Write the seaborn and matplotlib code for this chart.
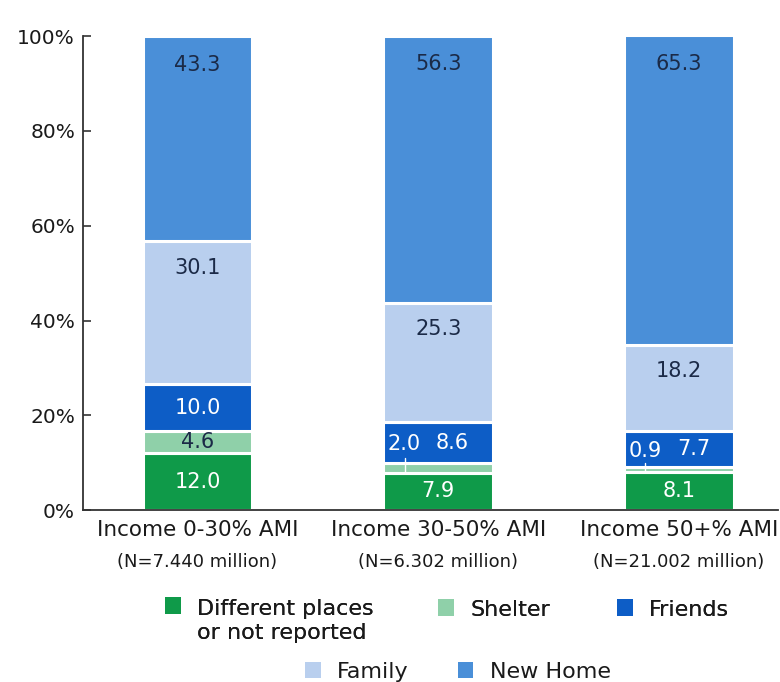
import matplotlib
matplotlib.use("Agg")
import matplotlib.pyplot as plt
import seaborn as sns
import numpy as np
from matplotlib.patches import Patch, Rectangle
from matplotlib.legend_handler import HandlerPatch

# ---- data ----
groups = ["Income 0-30% AMI", "Income 30-50% AMI", "Income 50+% AMI"]
group_n = ["(N=7.440 million)", "(N=6.302 million)", "(N=21.002 million)"]
series = ["Different places\nor not reported", "Shelter", "Friends", "Family", "New Home"]
different = [12.0, 7.9, 8.1]
shelter = [4.6, 2.0, 0.9]
friends = [10.0, 8.6, 7.7]
family = [30.1, 25.3, 18.2]
new_home = [43.3, 56.3, 65.3]
yticks = [0, 20, 40, 60, 80, 100]

colors = ["#0f9a49", "#8fd0a9", "#0d5dc6", "#b9cfee", "#4a8fd8"]
dark_txt = "#1b2a47"
txt_colors = ["white", dark_txt, "white", dark_txt, dark_txt]
axis_txt = "#1a1a1a"

sns.set_theme(style="white")
plt.rcParams["font.family"] = ["DejaVu Sans"]

fig = plt.figure(figsize=(7.8, 6.82), dpi=100)
ax = fig.add_axes([0.106, 0.252, 0.891, 0.695])

values = [different, shelter, friends, family, new_home]
bottoms = np.zeros(len(groups))
bar_w = 0.455
seg_bottoms = []
for vals, col, name in zip(values, colors, series):
    sns.barplot(x=groups, y=vals, color=col, bottom=bottoms.copy(), width=bar_w,
                edgecolor="white", linewidth=2.2, ax=ax, saturation=1)
    seg_bottoms.append(bottoms.copy())
    bottoms = bottoms + np.array(vals)

ax.set_xlim(-0.477, 2.41)
ax.set_ylim(0, 100)
ax.set_yticks(yticks)
ax.set_yticklabels([f"{t}%" for t in yticks], fontsize=14.5, color=axis_txt)
ax.set_xticks([0, 1, 2])
ax.set_xticklabels([])
ax.tick_params(axis="y", direction="in", length=5.5, width=1.2, color="#333333",
               left=True, pad=5.5)
ax.tick_params(axis="x", length=0)
for s in ["top", "right"]:
    ax.spines[s].set_visible(False)
for s in ["left", "bottom"]:
    ax.spines[s].set_color("#333333")
    ax.spines[s].set_linewidth(1.3)

# category labels
for i, (g, n) in enumerate(zip(groups, group_n)):
    ax.text(i, -2.1, g, ha="center", va="top", fontsize=15.5, color=axis_txt,
            transform=ax.transData, clip_on=False)
    ax.text(i, -9.0, n, ha="center", va="top", fontsize=13, color=axis_txt,
            transform=ax.transData, clip_on=False)

# value labels
for k, (vals, bots) in enumerate(zip(values, seg_bottoms)):
    for i, (v, b) in enumerate(zip(vals, bots)):
        if k == 4:
            y = b + v - 6.0
        elif k == 3:
            y = b + v - 5.6
        else:
            y = b + v / 2
        x = i
        if k == 2 and i > 0:
            x = i + 0.06
        if k == 1 and i > 0:
            fb = seg_bottoms[2][i]
            fv = friends[i]
            lx = i - 0.14
            ax.text(lx, fb + fv / 2 - 0.3, f"{v:.1f}", ha="center", va="center",
                    fontsize=15, color="white")
            ax.plot([lx, lx], [fb + 1.0, b + 0.2], color="white", lw=1.0)
            continue
        ax.text(x, y, f"{v:.1f}", ha="center", va="center", fontsize=15,
                color=txt_colors[k])

# legends
leg_fs = 16


def top_patch(legend, orig_handle, xdescent, ydescent, width, height, fontsize):
    shift = 0.6 * fontsize * 1.2
    return Rectangle((-xdescent, -ydescent + shift), width, height)


h = [Patch(facecolor=c, edgecolor="none") for c in colors]
row1_x = [0.2115, 0.5615, 0.791]
row_kw = dict(loc="upper left", frameon=False, fontsize=leg_fs, handlelength=0.7,
              handleheight=0.78, handletextpad=0.75, borderaxespad=0, borderpad=0,
              labelcolor=axis_txt)
for j in range(3):
    hm = {h[j]: HandlerPatch(patch_func=top_patch)} if j == 0 else None
    lg = fig.legend([h[j]], [series[j]], bbox_to_anchor=(row1_x[j], 0.121),
                    handler_map=hm, **row_kw)
    fig.add_artist(lg)
leg2 = fig.legend(h[3:], series[3:], bbox_to_anchor=(0.391, 0.030), ncol=2,
                  columnspacing=2.2, **row_kw)

fig.savefig("out.png", dpi=100)
